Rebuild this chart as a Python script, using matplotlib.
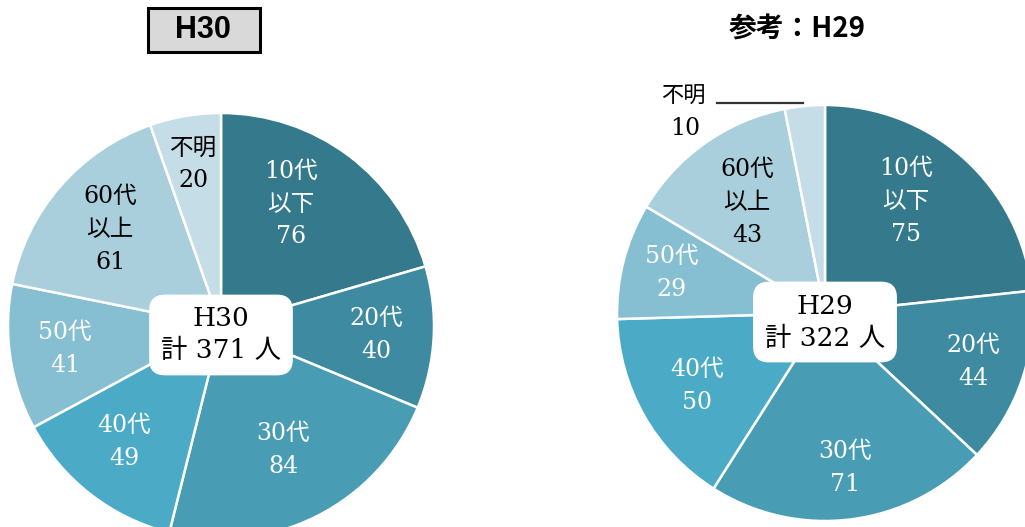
import numpy as np
import matplotlib.pyplot as plt
from matplotlib.patches import Rectangle

# data
categories = ["10代\n以下", "20代", "30代", "40代", "50代", "60代\n以上", "不明"]
h30_values = [76, 40, 84, 49, 41, 61, 20]
h29_values = [75, 44, 71, 50, 29, 43, 10]
h30_total = 371
h29_total = 322

colors = ["#357a8c", "#3e8ba1", "#489db5", "#4babc6", "#86bfd2", "#a9cfdd", "#c5dde6"]
text_colors = ["white", "white", "white", "white", "white", "black", "black"]

serif = ["DejaVu Serif", "Noto Sans CJK JP"]

W, H = 1025, 527
fig = plt.figure(figsize=(W / 100, H / 100), dpi=100)
ax = fig.add_axes([0, 0, 1, 1])


def draw_pie(values, cx, cy, r, dists, shifts, total, title, outside=None):
	wedges, _ = ax.pie(values, colors=colors, startangle=90, counterclock=False,
		center=(cx, cy), radius=r,
		wedgeprops=dict(edgecolor="white", linewidth=1.8))
	for i, w in enumerate(wedges):
		ang = np.deg2rad((w.theta1 + w.theta2) / 2 + shifts[i])
		if outside is not None and i == outside:
			# label outside with a leader line
			ex, ey = cx + r * np.cos(ang), cy + r * np.sin(ang) + 3
			ax.plot([ex - 88, ex - 2], [ey, ey], color="#333333", lw=1.6)
			ax.text(ex - 121, ey + 6, "不明", ha="center", va="center",
				fontsize=16, family=serif, color="black")
			ax.text(ex - 120, ey - 26, str(values[i]), ha="center", va="center",
				fontsize=17, family=serif, color="black")
			continue
		d = dists[i] * r
		x, y = cx + d * np.cos(ang), cy + d * np.sin(ang)
		ax.text(x, y, categories[i] + "\n" + str(values[i]),
			ha="center", va="center", fontsize=17, family=serif,
			color=text_colors[i], linespacing=1.55)
	ax.text(cx, cy - 9, title + "\n計 " + str(total) + " 人", ha="center", va="center",
		fontsize=19, family=serif, color="black", linespacing=1.35,
		bbox=dict(boxstyle="round,pad=0.45,rounding_size=0.6", fc="white", ec="none"))


draw_pie(h30_values, 221, H - 326, 213, [0.66, 0.73, 0.65, 0.71, 0.74, 0.69, 0.77],
	[7, 0, 0, -2, 0, 0, 0], h30_total, "H30")
draw_pie(h29_values, 825, H - 313, 208, [0.66, 0.75, 0.75, 0.71, 0.76, 0.65, 0.7],
	[6, 0, 0, 0, 0, 0, 0], h29_total, "H29", outside=6)

# titles
ax.add_patch(Rectangle((148, H - 52), 112, 44, fc="#d9d9d9", ec="black", lw=2.2))
ax.text(203, H - 30, "H30", ha="center", va="center", fontsize=22, fontweight="bold",
	family=["Liberation Sans", "DejaVu Sans"], color="black")
ax.text(797, H - 30, "参考：H29", ha="center", va="center", fontsize=20, fontweight="bold",
	family=["Noto Sans CJK JP", "DejaVu Sans"], color="black")

ax.set_xlim(0, W)
ax.set_ylim(0, H)
ax.set_aspect("equal")
ax.axis("off")

fig.savefig("out.png", dpi=100)
